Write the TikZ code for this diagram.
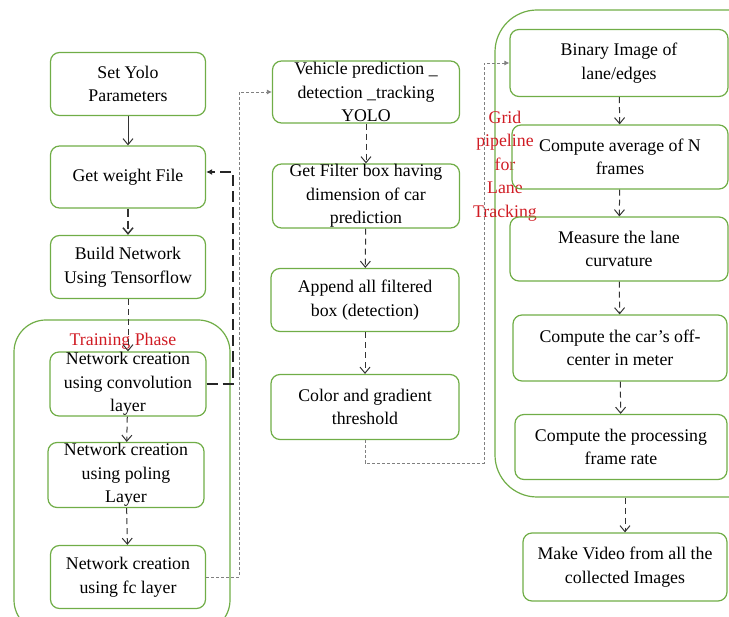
\documentclass[tikz,border=0pt]{standalone}
\usepackage{fontspec}
\setmainfont{Liberation Serif}
\usetikzlibrary{arrows.meta}

\definecolor{boxgreen}{HTML}{70AD47}
\definecolor{labelred}{HTML}{D01C24}
\definecolor{flowgray}{HTML}{333333}

\begin{document}
\begin{tikzpicture}[
  x = 1pt, y = -1pt,
  every node/.style = {font = \fontsize{17.8}{23.5}\selectfont, align = center, inner sep = 0pt},
  stage/.style = {draw = boxgreen, line width = 1.2pt, rounded corners = 9pt},
  phase/.style = {draw = boxgreen, line width = 1.2pt},
  flow/.style = {draw = flowgray, line width = 1pt, dash pattern = on 6pt off 4pt,
                 -{Straight Barb[length = 6pt, width = 10pt]}},
  solidflow/.style = {draw = flowgray, line width = 1pt,
                      -{Straight Barb[length = 6pt, width = 10pt]}},
  feedback/.style = {draw = black!85, line width = 2pt, dash pattern = on 11pt off 5pt,
                     -{Latex[length = 6pt, width = 6pt]}},
  handover/.style = {draw = gray, line width = 0.8pt, dash pattern = on 3pt off 2pt,
                     -{Latex[length = 5pt, width = 5pt]}},
  redtext/.style = {text = labelred},
  ]
  \path[use as bounding box, clip] (0,0) rectangle (729,617);

  % group frames
  \node[phase, rounded corners = 32pt, minimum width = 216pt, minimum height = 312pt] (train) at (122,476) {};
  \node[phase, rounded corners = 42pt, minimum width = 275pt, minimum height = 487pt] (lane) at (632.5,253.5) {};
  \node[redtext] (trainlbl) at (123,341) {Training Phase};
  \node[redtext] (lanelbl) at (505,166) {Grid\\pipeline\\for\\Lane\\Tracking};

  % left column
  \node[stage, minimum width = 155pt, minimum height = 63pt] (yolo) at (128,84) {Set Yolo\\Parameters};
  \node[stage, minimum width = 155pt, minimum height = 62pt] (weight) at (128,177) {Get weight File};
  \node[stage, minimum width = 155pt, minimum height = 63pt] (build) at (128,267) {Build Network\\Using Tensorflow};
  \node[stage, minimum width = 156pt, minimum height = 64pt] (conv) at (128,384) {Network creation\\using convolution\\layer};
  \node[stage, minimum width = 156pt, minimum height = 65pt] (pool) at (126,475) {Network creation\\using poling\\Layer};
  \node[stage, minimum width = 155pt, minimum height = 63pt] (fc) at (128,577) {Network creation\\using fc layer};

  % middle column
  \node[stage, minimum width = 187pt, minimum height = 62pt] (vehicle) at (366,92) {Vehicle prediction \_\\detection \_tracking\\YOLO};
  \node[stage, minimum width = 187pt, minimum height = 64pt] (filter) at (366,196) {Get Filter box having\\dimension of car\\prediction};
  \node[stage, minimum width = 188pt, minimum height = 63pt] (append) at (365,300) {Append all filtered\\box (detection)};
  \node[stage, minimum width = 188pt, minimum height = 65pt] (color) at (365,407) {Color and gradient\\threshold};

  % right column
  \node[stage, minimum width = 218pt, minimum height = 67pt] (binary) at (619,63) {Binary Image of\\lane/edges};
  \node[stage, minimum width = 216pt, minimum height = 64pt] (average) at (620,157) {Compute average of N\\frames};
  \node[stage, minimum width = 218pt, minimum height = 64pt] (curve) at (619,249) {Measure the lane\\curvature};
  \node[stage, minimum width = 214pt, minimum height = 66pt] (offset) at (620,348) {Compute the car’s off-\\center in meter};
  \node[stage, minimum width = 212pt, minimum height = 65pt] (rate) at (621,447) {Compute the processing\\frame rate};
  \node[stage, minimum width = 204pt, minimum height = 68pt] (video) at (625,567) {Make Video from all the\\collected Images};

  \coordinate (gridturn) at (484,463);

  % connectors
  \draw[solidflow] (yolo) -- (weight);
  \draw[flow, line width = 1.5pt, dash pattern = on 8pt off 4pt] (weight) -- (build);
  \draw[flow] (build) -- (conv);
  \draw[flow] (conv) -- (pool);
  \draw[flow] (pool) -- (fc);
  \draw[feedback] (conv.east) -- ++(26,0) |- ([yshift = 5pt]weight.east);
  \draw[handover] (fc.east) -- ++(33,0) |- (vehicle.west);

  \draw[flow] (vehicle) -- (filter);
  \draw[flow] (filter) -- (append);
  \draw[flow] (append) -- (color);
  \draw[handover] (color.south) |- (gridturn) |- (binary.west);

  \draw[flow] (binary) -- (average);
  \draw[flow] (average) -- (curve);
  \draw[flow] (curve) -- (offset);
  \draw[flow] (offset) -- (rate);
  \draw[flow] (video.north |- lane.south) -- (video.north);
\end{tikzpicture}
\end{document}
